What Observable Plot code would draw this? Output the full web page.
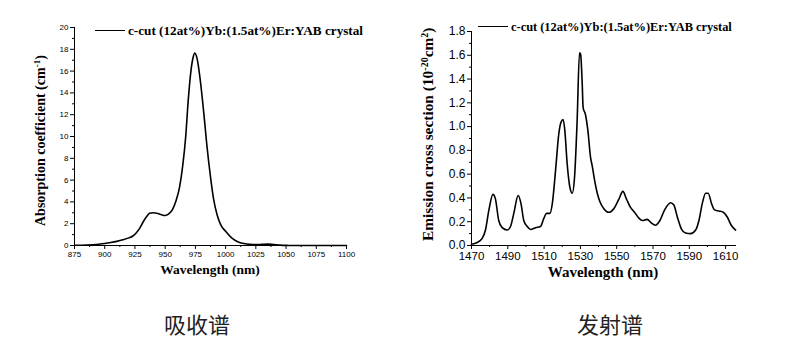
<!DOCTYPE html>
<html>
<head>
<meta charset="utf-8">
<script src="https://cdn.jsdelivr.net/npm/d3@7"></script>
<script src="https://cdn.jsdelivr.net/npm/@observablehq/plot@0.6"></script>
<style>
  html, body { margin: 0; padding: 0; background: #fff; }
  #wrap { position: relative; width: 785px; height: 354px; overflow: hidden; background: #fff; }
  .plot { position: absolute; top: 0; }
  .ttl { position: absolute; font-family: "Liberation Serif", "Times New Roman", serif; font-weight: bold; color: #000; white-space: nowrap; line-height: 1; }
  .rot { transform-origin: 0 0; transform: rotate(-90deg); }
  .hc { transform: translateX(-50%); }
  .ttl sup { font-size: 65%; vertical-align: 0.5em; line-height: 0; }
  .leg { position: absolute; font-family: "Liberation Serif", "Times New Roman", serif; font-weight: bold; color: #000; white-space: nowrap; display: flex; align-items: center; line-height: 1; }
  .leg .sw { display: inline-block; height: 0; border-top: 1.6px solid #000; margin-right: 3px; }
  .cap { position: absolute; font-family: "Noto Sans CJK SC", sans-serif; font-size: 22px; line-height: 1; color: #222; white-space: nowrap; }
</style>
</head>
<body>
<div id="wrap"></div>
<script>
// Absorption spectrum (left)
const absWavelength = [875, 885, 895, 900, 905, 910, 915, 920, 923, 926, 929, 932, 935, 937, 940, 944, 947, 950, 953, 956, 959, 962, 964.5, 967, 969, 971, 973, 974.5, 976.5, 979, 982, 984.5, 987.5, 990, 993, 996, 1000, 1005, 1010, 1015, 1020, 1025, 1030, 1035, 1040, 1045, 1050, 1060, 1075, 1100];
const absValue = [0.02, 0.05, 0.12, 0.18, 0.27, 0.38, 0.52, 0.7, 0.85, 1.15, 1.6, 2.2, 2.7, 2.95, 3.0, 2.93, 2.82, 2.75, 2.9, 3.3, 4.1, 5.4, 7.3, 10.0, 13.2, 15.7, 17.2, 17.65, 17.1, 15.2, 12.1, 9.2, 6.3, 4.3, 2.8, 1.9, 1.3, 0.7, 0.35, 0.18, 0.1, 0.08, 0.1, 0.13, 0.08, 0.03, 0.01, 0, 0, 0];

// Emission spectrum (right)
const emWavelength = [1470, 1473.1, 1475.9, 1477.7, 1479.6, 1481.8, 1483.2, 1485, 1486.9, 1489.7, 1491.5, 1493.3, 1495.7, 1497.3, 1498.8, 1500.7, 1502.5, 1505.3, 1508, 1509.9, 1511.3, 1513.2, 1514.5, 1516.3, 1518.1, 1519.4, 1520.5, 1521.4, 1522.7, 1524.2, 1525.5, 1526.8, 1528.2, 1529.5, 1530.1, 1531, 1531.5, 1532.8, 1534.1, 1535.6, 1536.5, 1537.8, 1539.3, 1540.7, 1542.9, 1545.7, 1548.4, 1551.2, 1553.4, 1555.4, 1557.6, 1559.8, 1562.2, 1564.1, 1566.8, 1569, 1571.4, 1573.8, 1576.4, 1579.7, 1581.5, 1583.4, 1585.6, 1587.9, 1590.7, 1593.5, 1595.3, 1597.1, 1599, 1600.4, 1602.3, 1603.9, 1606.3, 1608.7, 1610.9, 1613.1, 1615.5];
const emValue = [0.01, 0.025, 0.06, 0.13, 0.3, 0.43, 0.39, 0.21, 0.15, 0.13, 0.16, 0.27, 0.42, 0.35, 0.21, 0.16, 0.135, 0.15, 0.16, 0.23, 0.27, 0.27, 0.35, 0.63, 0.94, 1.04, 1.06, 0.97, 0.69, 0.49, 0.44, 0.58, 1.05, 1.62, 1.61, 1.36, 1.16, 1.1, 0.97, 0.74, 0.67, 0.55, 0.44, 0.37, 0.31, 0.28, 0.31, 0.39, 0.455, 0.39, 0.32, 0.28, 0.23, 0.21, 0.22, 0.19, 0.17, 0.21, 0.3, 0.36, 0.34, 0.24, 0.14, 0.105, 0.1, 0.13, 0.21, 0.35, 0.44, 0.44, 0.35, 0.3, 0.29, 0.28, 0.24, 0.17, 0.13];

// Tick labels
const absXTicks = [875, 900, 925, 950, 975, 1000, 1025, 1050, 1075, 1100];
const absYTicks = [0, 2, 4, 6, 8, 10, 12, 14, 16, 18, 20];
const emXTicks = [1470, 1490, 1510, 1530, 1550, 1570, 1590, 1610];
const emYTicks = [0.0, 0.2, 0.4, 0.6, 0.8, 1.0, 1.2, 1.4, 1.6, 1.8];

const legendText = "c-cut (12at%)Yb:(1.5at%)Er:YAB crystal";

const absData = absWavelength.map((w, i) => ({w, v: absValue[i]}));
const emData = emWavelength.map((w, i) => ({w, v: emValue[i]}));

const wrap = document.getElementById("wrap");

function minor(lo, hi, step, majors) {
  const out = [];
  for (let v = lo; v <= hi + 1e-9; v += step) {
    const r = Math.round(v * 1000) / 1000;
    if (!majors.some(m => Math.abs(m - r) < 1e-6)) out.push(r);
  }
  return out;
}

// Left plot
const left = Plot.plot({
  width: 370, height: 285,
  marginLeft: 74, marginRight: 24, marginTop: 27, marginBottom: 40,
  style: {fontFamily: "Liberation Sans, Arial, sans-serif", fontSize: "8px", color: "#000", background: "transparent"},
  x: {domain: [875, 1100], label: null},
  y: {domain: [0, 20], label: null},
  marks: [
    Plot.axisX({ticks: absXTicks, tickSize: 4, tickPadding: 2, label: null, tickFormat: d => String(d), fontSize: 8}),
    Plot.axisX({ticks: minor(875, 1100, 12.5, absXTicks), tickSize: 2, label: null, tickFormat: () => ""}),
    Plot.axisY({ticks: absYTicks, tickSize: 4, tickPadding: 2, label: null, tickFormat: d => String(d), fontSize: 8}),
    Plot.axisY({ticks: minor(0, 20, 1, absYTicks), tickSize: 2, label: null, tickFormat: () => ""}),
    Plot.ruleX([875], {stroke: "#000", strokeWidth: 1}),
    Plot.ruleY([0], {stroke: "#000", strokeWidth: 1}),
    Plot.line(absData, {x: "w", y: "v", stroke: "#000", strokeWidth: 1.6, curve: "monotone-x"})
  ]
});
left.classList.add("plot");
left.style.left = "0px";
wrap.appendChild(left);

// Right plot
const right = Plot.plot({
  width: 350, height: 285,
  marginLeft: 71, marginRight: 14, marginTop: 31, marginBottom: 40,
  style: {fontFamily: "Liberation Sans, Arial, sans-serif", fontSize: "11.5px", color: "#000", background: "transparent"},
  x: {domain: [1470, 1616], label: null},
  y: {domain: [0, 1.8], label: null},
  marks: [
    Plot.axisX({ticks: emXTicks, tickSize: 4, tickPadding: 2, label: null, tickFormat: d => String(d), fontSize: 11.5}),
    Plot.axisX({ticks: minor(1470, 1616, 10, emXTicks), tickSize: 2, label: null, tickFormat: () => ""}),
    Plot.axisY({ticks: emYTicks, tickSize: 4, tickPadding: 2, label: null, tickFormat: d => d.toFixed(1), fontSize: 12}),
    Plot.axisY({ticks: minor(0, 1.8, 0.1, emYTicks), tickSize: 2, label: null, tickFormat: () => ""}),
    Plot.ruleX([1470], {stroke: "#000", strokeWidth: 1}),
    Plot.ruleY([0], {stroke: "#000", strokeWidth: 1}),
    Plot.line(emData, {x: "w", y: "v", stroke: "#000", strokeWidth: 1.6, curve: "monotone-x"})
  ]
});
right.classList.add("plot");
right.style.left = "400px";
wrap.appendChild(right);

// Titles, legends, captions
function addDiv(cls, html, styles) {
  const d = document.createElement("div");
  d.className = cls;
  d.innerHTML = html;
  Object.assign(d.style, styles);
  wrap.appendChild(d);
  return d;
}

addDiv("ttl hc", "Wavelength (nm)", {left: "210px", top: "263px", fontSize: "13.5px"});
addDiv("ttl rot", "Absorption coefficient (cm<sup>-1</sup>)", {left: "34px", top: "226px", fontSize: "14px"});
addDiv("ttl hc", "Wavelength (nm)", {left: "603px", top: "265px", fontSize: "15px"});
addDiv("ttl rot", "Emission cross section (10<sup>-20</sup>cm<sup>2</sup>)", {left: "420px", top: "241px", fontSize: "15.4px"});

addDiv("leg", '<span class="sw" style="width:30px"></span>' + legendText, {left: "95px", top: "24px", fontSize: "13.2px"});
addDiv("leg", '<span class="sw" style="width:30px"></span>' + legendText, {left: "478px", top: "20.5px", fontSize: "12.4px"});

addDiv("cap", "吸收谱", {left: "164px", top: "312px"});
addDiv("cap", "发射谱", {left: "577px", top: "312px"});
</script>
</body>
</html>
